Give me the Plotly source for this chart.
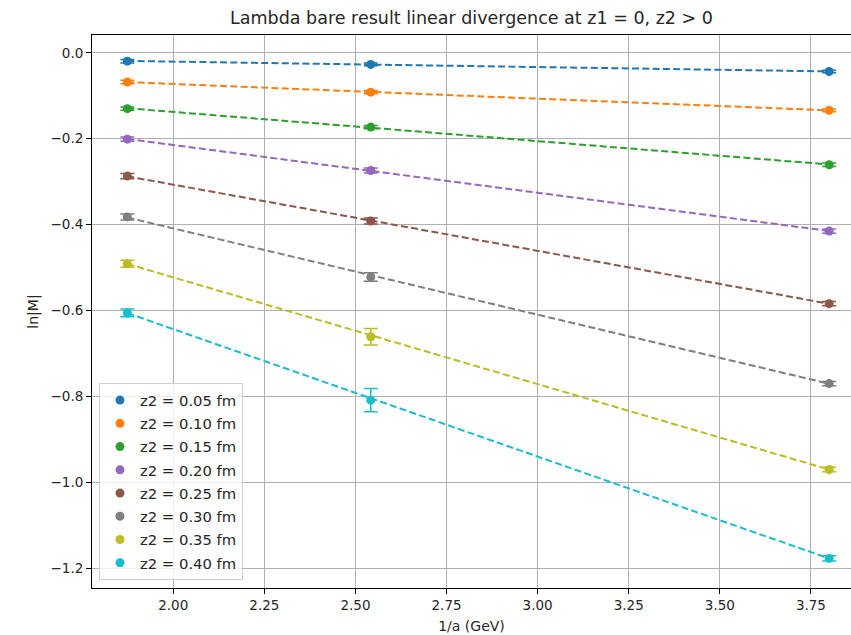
import numpy as np
import plotly.graph_objects as go

inv_a = [1.874, 2.542, 3.800]
labels = ["z2 = 0.05 fm", "z2 = 0.10 fm", "z2 = 0.15 fm", "z2 = 0.20 fm",
          "z2 = 0.25 fm", "z2 = 0.30 fm", "z2 = 0.35 fm", "z2 = 0.40 fm"]
colors = ["#1f77b4", "#ff7f0e", "#2ca02c", "#9467bd",
          "#8c564b", "#7f7f7f", "#bcbd22", "#17becf"]

ln_m_z005 = [-0.0195, -0.027, -0.0435]
ln_m_z010 = [-0.068, -0.0916, -0.134]
ln_m_z015 = [-0.130, -0.173, -0.2605]
ln_m_z020 = [-0.201, -0.274, -0.415]
ln_m_z025 = [-0.287, -0.3916, -0.584]
ln_m_z030 = [-0.382, -0.522, -0.770]
ln_m_z035 = [-0.491, -0.661, -0.970]
ln_m_z040 = [-0.6056, -0.8086, -1.177]

err_z005 = [0.004, 0.003, 0.003]
err_z010 = [0.004, 0.004, 0.003]
err_z015 = [0.004, 0.004, 0.004]
err_z020 = [0.005, 0.006, 0.005]
err_z025 = [0.006, 0.007, 0.005]
err_z030 = [0.007, 0.010, 0.005]
err_z035 = [0.008, 0.019, 0.005]
err_z040 = [0.009, 0.027, 0.006]

values = [ln_m_z005, ln_m_z010, ln_m_z015, ln_m_z020,
          ln_m_z025, ln_m_z030, ln_m_z035, ln_m_z040]
errors = [err_z005, err_z010, err_z015, err_z020,
          err_z025, err_z030, err_z035, err_z040]

font = "DejaVu Sans"
fig = go.Figure()

x_arr = np.array(inv_a)
xfit = np.array([x_arr.min(), x_arr.max()])
for lab, col, v, e in zip(labels, colors, values, errors):
    v = np.array(v)
    e = np.array(e)
    p = np.polyfit(x_arr, v, 1, w=1.0 / e)
    fig.add_trace(go.Scatter(
        x=xfit, y=np.polyval(p, xfit), mode="lines",
        line=dict(color=col, width=2, dash="7px,3.3px"),
        showlegend=False, hoverinfo="skip"))

for i, (lab, col, v, e) in enumerate(zip(labels, colors, values, errors)):
    fig.add_trace(go.Scatter(
        x=inv_a, y=v, mode="markers", name=lab, legendgroup="g%d" % i,
        marker=dict(color=col, size=9),
        error_y=dict(type="data", array=e, visible=True, color=col,
                     thickness=1.5, width=7)))

fig.update_layout(
    width=851, height=635,
    margin=dict(l=92, r=0, t=35, b=47),
    paper_bgcolor="white", plot_bgcolor="white",
    font=dict(family=font, size=13.5, color="#262626"),
    title=dict(text="Lambda bare result linear divergence at z1 = 0, z2 > 0",
               x=0.5, xref="paper", xanchor="center",
               y=1 - 18 / 635, yanchor="middle",
               font=dict(family=font, size=17.5, color="#262626")),
    legend=dict(x=0.0092, y=0.0145, xanchor="left", yanchor="bottom",
                bgcolor="rgba(255,255,255,0.8)", bordercolor="#d0d0d0",
                borderwidth=1, font=dict(family=font, size=14.8, color="#262626"),
                itemwidth=30, tracegroupgap=1),
)
fig.update_xaxes(
    range=[1.777, 3.860], tickvals=[2.0, 2.25, 2.5, 2.75, 3.0, 3.25, 3.5, 3.75],
    ticktext=["2.00", "2.25", "2.50", "2.75", "3.00", "3.25", "3.50", "3.75"],
    showgrid=True, gridcolor="#b0b0b0", gridwidth=1,
    showline=True, linecolor="black", linewidth=1, mirror=True,
    ticks="outside", ticklen=5, tickcolor="black",
    zeroline=False,
    title=dict(text="1/a (GeV)", standoff=8, font=dict(family=font, size=14)),
)
fig.update_yaxes(
    range=[-1.2458, 0.0414], tickvals=[0.0, -0.2, -0.4, -0.6, -0.8, -1.0, -1.2],
    ticktext=["0.0", "\u22120.2", "\u22120.4", "\u22120.6", "\u22120.8", "\u22121.0", "\u22121.2"],
    showgrid=True, gridcolor="#b0b0b0", gridwidth=1,
    showline=True, linecolor="black", linewidth=1, mirror=False,
    ticks="outside", ticklen=5, tickcolor="black",
    zeroline=False,
    title=dict(text="ln|M|", standoff=8, font=dict(family=font, size=14)),
)

fig.write_html("out.html")
